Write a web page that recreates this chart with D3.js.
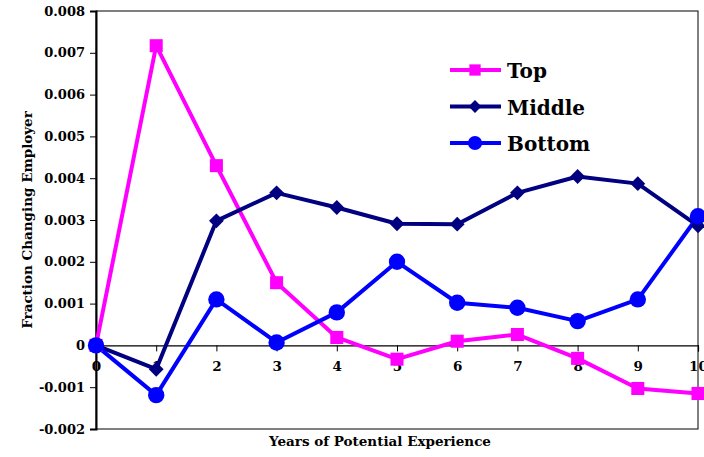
<!DOCTYPE html>
<html>
<head>
<meta charset="utf-8">
<script src="https://cdn.jsdelivr.net/npm/d3@7"></script>
<style>
  body { margin: 0; background: #fff; }
</style>
</head>
<body>
<svg width="704" height="457"></svg>
<script>
// years 0..10
const years = [0, 1, 2, 3, 4, 5, 6, 7, 8, 9, 10];
const topVals    = [0, 0.00717, 0.00430, 0.00150, 0.00019, -0.00033, 0.00010, 0.00026, -0.00031, -0.00103, -0.00115];
const middleVals = [0, -0.00057, 0.00298, 0.00365, 0.00330, 0.00291, 0.00290, 0.00365, 0.00404, 0.00387, 0.00286];
const bottomVals = [0, -0.00119, 0.00110, 0.00007, 0.00079, 0.00200, 0.00102, 0.00090, 0.00058, 0.00110, 0.00309];
const yTicks = [-0.002, -0.001, 0, 0.001, 0.002, 0.003, 0.004, 0.005, 0.006, 0.007, 0.008];
const yTickLabels = ["-0.002", "-0.001", "0", "0.001", "0.002", "0.003", "0.004", "0.005", "0.006", "0.007", "0.008"];

const serif = "DejaVu Serif";

const series = [
  { name: "Top", values: topVals, color: "#ff00ff", shape: "square" },
  { name: "Middle", values: middleVals, color: "#000080", shape: "diamond" },
  { name: "Bottom", values: bottomVals, color: "#0000ff", shape: "circle" }
];

// marker paths; diamond is a square turned 45 degrees
function marker(shape, scale) {
  if (shape === "square") return { d: d3.symbol().type(d3.symbolSquare).size(170 * scale)(), rot: 0 };
  if (shape === "diamond") return { d: d3.symbol().type(d3.symbolSquare).size(110 * scale)(), rot: 45 };
  return { d: d3.symbol().type(d3.symbolCircle).size(210 * scale)(), rot: 0 };
}

const svg = d3.select("svg");
const plotLeft = 96, plotRight = 698, plotTop = 11, plotBottom = 429;

const x = d3.scaleLinear().domain([0, 10]).range([plotLeft, plotRight]);
const y = d3.scaleLinear().domain([-0.002, 0.008]).range([plotBottom, plotTop]);

// frame
svg.append("rect")
  .attr("x", plotLeft).attr("y", plotTop)
  .attr("width", plotRight - plotLeft).attr("height", plotBottom - plotTop)
  .attr("fill", "none").attr("stroke", "#000").attr("stroke-width", 1);

// y axis
const yAxis = svg.append("g")
  .attr("transform", `translate(${plotLeft},0)`)
  .call(d3.axisLeft(y).tickValues(yTicks).tickSize(6).tickPadding(5)
    .tickFormat((d, i) => yTickLabels[i]));
yAxis.attr("font-family", serif);
yAxis.select(".domain").attr("stroke-width", 2);
yAxis.selectAll("text").attr("font-size", 13).attr("font-weight", "bold").attr("fill", "#000");

// x axis at zero
const xAxis = svg.append("g")
  .attr("transform", `translate(0,${y(0)})`)
  .call(d3.axisBottom(x).tickValues(years).tickSize(6).tickPadding(10).tickFormat(d3.format("d")));
xAxis.attr("font-family", serif);
xAxis.select(".domain").attr("stroke-width", 1.2);
xAxis.selectAll("text").attr("font-size", 13.5).attr("font-weight", "bold").attr("fill", "#000");

// lines and markers
const line = d3.line().x((d, i) => x(years[i])).y(d => y(d));

series.forEach(s => {
  svg.append("path")
    .datum(s.values)
    .attr("fill", "none")
    .attr("stroke", s.color)
    .attr("stroke-width", 4)
    .attr("stroke-linejoin", "round")
    .attr("d", line);
});

series.forEach(s => {
  const m = marker(s.shape, 1);
  svg.append("g").selectAll("path")
    .data(s.values)
    .enter().append("path")
      .attr("transform", (d, i) => `translate(${x(years[i])},${y(d)}) rotate(${m.rot})`)
      .attr("d", m.d)
      .attr("fill", s.color);
});

// axis titles
svg.append("text")
  .attr("transform", `translate(32,${(plotTop + plotBottom) / 2}) rotate(-90)`)
  .attr("text-anchor", "middle")
  .attr("font-family", serif).attr("font-weight", "bold")
  .attr("font-size", 13.5)
  .text("Fraction Changing Employer");

svg.append("text")
  .attr("x", 380)
  .attr("y", 446)
  .attr("text-anchor", "middle")
  .attr("font-family", serif).attr("font-weight", "bold")
  .attr("font-size", 13.5)
  .text("Years of Potential Experience");

// legend
const legend = svg.append("g");
series.forEach((s, i) => {
  const ly = 70 + i * 36.5;
  legend.append("line")
    .attr("x1", 450).attr("x2", 501).attr("y1", ly).attr("y2", ly)
    .attr("stroke", s.color).attr("stroke-width", 4);
  const m = marker(s.shape, 0.75);
  legend.append("path")
    .attr("transform", `translate(475,${ly}) rotate(${m.rot})`)
    .attr("d", m.d)
    .attr("fill", s.color);
  legend.append("text")
    .attr("x", 507).attr("y", ly + 8)
    .attr("font-family", serif).attr("font-weight", "bold")
    .attr("font-size", 20)
    .text(s.name);
});
</script>
</body>
</html>
